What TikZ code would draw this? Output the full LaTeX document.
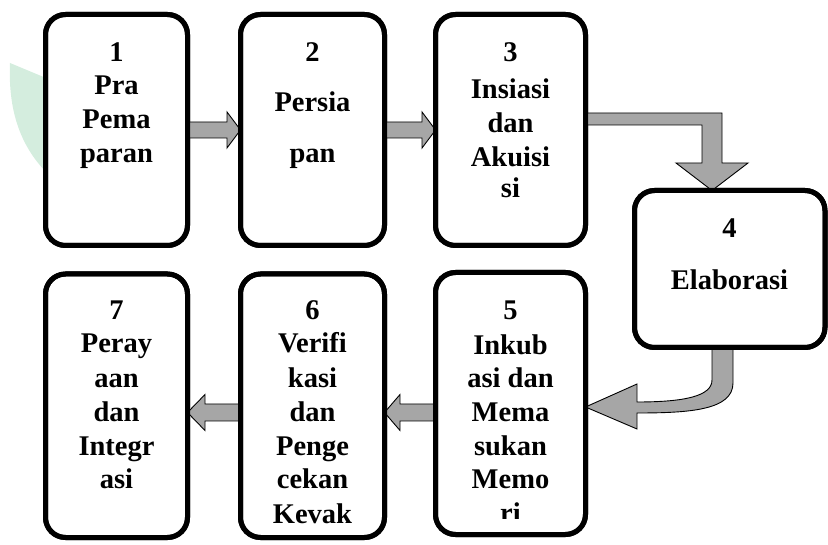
\documentclass[tikz,border=0pt]{standalone}
\usepackage{fontspec}
\setmainfont{Liberation Serif}
\usetikzlibrary{calc}
\definecolor{arrgray}{RGB}{166,166,166}
\definecolor{wmgreen}{RGB}{212,237,222}
\begin{document}
\begin{tikzpicture}[x=1pt,y=-1pt,
  bx/.style={draw=black, line width=5pt, fill=white, rounded corners=20pt, inner sep=0pt, outer sep=0pt},
  arr/.style={fill=arrgray, draw=black, line width=0.9pt, line join=miter},
  lbl/.style={anchor=base, inner sep=0pt, font=\bfseries\fontsize{28.5}{34}\selectfont}]
\useasboundingbox (0,0) rectangle (828,545);
% watermark
\fill[wmgreen] (10,63) .. controls (8,110) and (20,145) .. (46,172) -- (46,78) -- cycle;
% boxes
\node[bx, minimum width=142pt, minimum height=231pt] (b1) at (116.5,130) {};
\node[bx, minimum width=144pt, minimum height=231pt] (b2) at (312.5,130) {};
\node[bx, minimum width=150pt, minimum height=231pt] (b3) at (510.5,130) {};
\node[bx, minimum width=190.5pt, minimum height=157pt] (b4) at (729.75,269) {};
\node[bx, minimum width=150pt, minimum height=262pt] (b5) at (510.5,403.5) {};
\node[bx, minimum width=144pt, minimum height=263.5pt] (b6) at (312.5,405.75) {};
\node[bx, minimum width=142pt, minimum height=263.5pt] (b7) at (116.5,405.75) {};
% arrows
\filldraw[arr] (b1.east |- 0,122) -- (227,122) -- (227,112) -- (b2.west |- 0,130) -- (227,148) -- (227,138) -- (b1.east |- 0,138) -- cycle;
\filldraw[arr] (b2.east |- 0,122) -- (422,122) -- (422,112) -- (b3.west |- 0,130) -- (422,148) -- (422,138) -- (b2.east |- 0,138) -- cycle;
\filldraw[arr] (b3.east |- 0,113) -- (722,113) -- (722,163) -- (748,163) -- (712,0 |- b4.north) -- (676,163) -- (702,163) -- (702,125) -- (b3.east |- 0,125) -- cycle;
\filldraw[arr] (733,0 |- b4.south) -- (733,383) .. controls (733,410) and (690,413) .. (637,413) -- (637,429) -- (b5.east |- 0,407) -- (637,384) -- (637,402) .. controls (685,402) and (712,396) .. (712,380) -- (712,0 |- b4.south) -- cycle;
\filldraw[arr] (b5.west |- 0,404) -- (400,404) -- (400,394.5) -- (b6.east |- 0,412.5) -- (400,430.5) -- (400,421) -- (b5.west |- 0,421) -- cycle;
\filldraw[arr] (b6.west |- 0,404) -- (205,404) -- (205,394.5) -- (b7.east |- 0,412.5) -- (205,430.5) -- (205,421) -- (b6.west |- 0,421) -- cycle;
% redraw box outlines over arrow ends
\foreach \bb in {b1,b2,b3,b4,b5,b6,b7}
  \draw[line width=5pt, rounded corners=20pt] (\bb.north west) rectangle (\bb.south east);
% texts
\foreach \tx/\yy [count=\k] in {1/62,Pra/95,Pema/129,paran/163}
  \node[lbl] (ta\k) at (116.5,\yy) {\tx};
\foreach \tx/\yy [count=\k] in {2/62,Persia/112,pan/163}
  \node[lbl] (tb\k) at (312.5,\yy) {\tx};
\foreach \tx/\yy [count=\k] in {3/62,Insiasi/99,dan/133,Akuisi/167,si/198}
  \node[lbl] (tc\k) at (510.5,\yy) {\tx};
\foreach \tx/\yy [count=\k] in {4/238,Elaborasi/290}
  \node[lbl] (td\k) at (729.5,\yy) {\tx};
\begin{scope}
  \clip (438,276) rectangle (584,518);
  \foreach \tx/\yy [count=\k] in {5/320,Inkub/355,asi dan/388,Mema/422,sukan/455,Memo/488,ri/522}
    \node[lbl] (te\k) at (510.5,\yy) {\tx};
\end{scope}
\foreach \tx/\yy [count=\k] in {6/320,Verifi/353,kasi/388,dan/422,Penge/455,cekan/488,Kevak/523}
  \node[lbl] (tf\k) at (312.5,\yy) {\tx};
\foreach \tx/\yy [count=\k] in {7/320,Peray/353,aan/388,dan/422,Integr/455,asi/488}
  \node[lbl] (tg\k) at (116.5,\yy) {\tx};
\end{tikzpicture}
\end{document}
